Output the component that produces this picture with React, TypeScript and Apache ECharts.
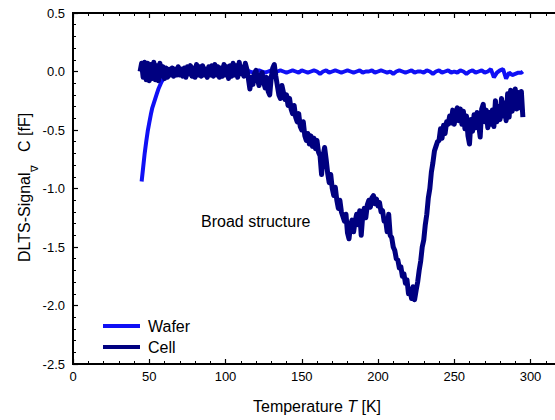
import React, { useEffect, useRef } from "react";
import * as echarts from "echarts";

// Temperature axis ticks / ranges
const xTickLabels = ["0", "50", "100", "150", "200", "250", "300"];
const yTickLabels = ["-2.5", "-2.0", "-1.5", "-1.0", "-0.5", "0.0", "0.5"];

// Cell: values every 1 K, starting at 44 K
const cellStartT = 44;
const cellStepT = 1;
const cellValues = [
  0.00, 0.07, -0.05, 0.08, -0.07, 0.07, -0.08, 0.06, -0.06, 0.08,
  -0.07, 0.05, -0.08, 0.07, -0.04, 0.04, -0.06, 0.03, -0.05, 0.02,
  -0.03, 0.03, -0.04, 0.02, -0.03, 0.04, -0.03, 0.02, -0.04, 0.03,
  -0.05, 0.04, -0.02, 0.05, -0.04, 0.03, -0.05, 0.06, -0.03, 0.04,
  -0.04, 0.05, -0.03, 0.02, -0.05, 0.04, -0.03, 0.05, -0.04, 0.06,
  -0.03, 0.04, -0.05, 0.03, -0.04, 0.06, -0.03, 0.04, -0.06, 0.05,
  -0.04, 0.07, -0.03, 0.05, -0.05, 0.08, -0.02, 0.04, -0.04, 0.07,
  0.02, -0.06, -0.15, -0.05, -0.11, -0.02, 0.01, -0.07, -0.12, -0.03,
  -0.01, -0.09, -0.14, -0.05, -0.17, -0.20, -0.05, 0.03, 0.06, -0.04,
  -0.12, -0.20, -0.23, -0.12, -0.18, -0.24, -0.20, -0.29, -0.23, -0.32,
  -0.36, -0.29, -0.39, -0.43, -0.36, -0.47, -0.50, -0.43, -0.55, -0.59,
  -0.53, -0.62, -0.55, -0.64, -0.57, -0.66, -0.59, -0.69, -0.72, -0.88,
  -0.72, -0.65, -0.75, -0.87, -0.95, -0.88, -1.00, -1.06, -0.99, -1.10,
  -1.17, -1.10, -1.20, -1.24, -1.28, -1.22, -1.38, -1.43, -1.31, -1.27,
  -1.37, -1.28, -1.22, -1.31, -1.19, -1.40, -1.23, -1.17, -1.25, -1.14,
  -1.10, -1.16, -1.08, -1.06, -1.13, -1.09, -1.15, -1.12, -1.20, -1.19,
  -1.28, -1.27, -1.37, -1.22, -1.40, -1.42, -1.50, -1.53, -1.60, -1.61,
  -1.68, -1.67, -1.75, -1.73, -1.81, -1.78, -1.90, -1.86, -1.94, -1.84,
  -1.95, -1.87, -1.80, -1.70, -1.62, -1.50, -1.44, -1.31, -1.22, -1.08,
  -1.00, -0.86, -0.78, -0.68, -0.64, -0.60, -0.59, -0.49, -0.57, -0.46,
  -0.53, -0.43, -0.45, -0.38, -0.44, -0.33, -0.45, -0.35, -0.31, -0.42,
  -0.32, -0.45, -0.34, -0.49, -0.38, -0.55, -0.62, -0.41, -0.51, -0.37,
  -0.48, -0.35, -0.45, -0.56, -0.32, -0.28, -0.43, -0.33, -0.48, -0.35,
  -0.45, -0.33, -0.47, -0.25, -0.43, -0.30, -0.41, -0.23, -0.38, -0.27,
  -0.42, -0.19, -0.39, -0.16, -0.34, -0.22, -0.15, -0.32, -0.18, -0.31,
  -0.17, -0.39,
];

// Wafer: steep rise every 1 K from 45 K, then every 2 K from 66 K, final point at 295 K
const waferRiseStartT = 45;
const waferRiseValues = [
  -0.94, -0.82, -0.70, -0.60, -0.51, -0.44, -0.37, -0.31, -0.27, -0.23,
  -0.19, -0.15, -0.12, -0.09, -0.07, -0.05, -0.04, -0.03, -0.02, -0.02,
  -0.01,
];
const waferFlatStartT = 66;
const waferFlatStepT = 2;
const waferFlatValues = [
  -0.01, 0.00, -0.01, 0.01, 0.00, -0.01, 0.00, 0.01, -0.01, 0.00,
  0.01, -0.01, 0.00, 0.01, 0.00, -0.01, 0.01, 0.00, -0.01, 0.00,
  0.01, 0.00, -0.01, 0.00, 0.01, 0.00, -0.01, 0.00, 0.01, 0.00,
  -0.01, 0.00, 0.01, -0.01, 0.00, 0.01, 0.00, -0.01, 0.00, 0.01,
  0.00, -0.01, 0.01, 0.00, -0.01, 0.00, 0.01, 0.00, -0.02, 0.00,
  0.01, -0.01, 0.00, 0.01, 0.00, -0.01, 0.00, 0.01, 0.00, -0.01,
  0.00, 0.01, -0.01, 0.00, 0.00, 0.01, -0.01, 0.00, 0.01, 0.00,
  -0.01, 0.00, -0.02, 0.00, 0.01, 0.00, -0.01, 0.00, 0.01, -0.01,
  0.00, 0.00, -0.01, 0.01, 0.00, -0.02, 0.00, 0.01, -0.01, 0.00,
  0.01, -0.01, 0.00, -0.01, 0.01, 0.00, -0.02, 0.00, 0.01, -0.01,
  0.00, 0.01, -0.01, 0.00, 0.02, -0.05, -0.01, 0.01, 0.02, -0.06,
  -0.01, -0.03, -0.02, -0.01, -0.01,
];
const waferEnd = [295, 0.0];

const seriesNames = ["Wafer", "Cell"];
const annotation = "Broad structure";

const FONT = "'Liberation Sans', Arial, Helvetica, sans-serif";

const mkLine = () => ({ show: true, onZero: false, lineStyle: { color: "#000", width: 2 } });
const mkTick = () => ({ show: true, inside: true, length: 5, lineStyle: { color: "#000", width: 1.2 } });
const mkMinor = () => ({ show: true, splitNumber: 5, length: 3, lineStyle: { color: "#000", width: 1 } });

export default function App() {
  const ref = useRef<HTMLDivElement>(null);
  useEffect(() => {
    if (!ref.current) return;
    const chart = echarts.init(ref.current, null, { renderer: "svg" });

    const cellData = cellValues.map((v, i) => [cellStartT + i * cellStepT, v]);
    const waferData = [
      ...waferRiseValues.map((v, i) => [waferRiseStartT + i, v]),
      ...waferFlatValues.map((v, i) => [waferFlatStartT + i * waferFlatStepT, v]),
      waferEnd,
    ];

    const xMin = Number(xTickLabels[0]);
    const xInterval = Number(xTickLabels[1]) - Number(xTickLabels[0]);
    const yMin = Number(yTickLabels[0]);
    const yMax = Number(yTickLabels[yTickLabels.length - 1]);
    const yInterval = Number(yTickLabels[1]) - Number(yTickLabels[0]);

    chart.setOption({
      animation: false,
      backgroundColor: "#fff",
      textStyle: { fontFamily: FONT },
      grid: {
        left: 73,
        top: 13,
        bottom: 56,
        right: -6,
        containLabel: false,
        outerBoundsMode: "none",
        show: true,
        borderColor: "#000",
        borderWidth: 2,
        backgroundColor: "transparent",
      },
      legend: {
        data: seriesNames,
        orient: "vertical",
        left: 98,
        top: 313,
        itemWidth: 37,
        itemHeight: 4,
        itemGap: 5,
        icon: "rect",
        textStyle: { fontSize: 16, color: "#000", fontFamily: FONT, lineHeight: 16, padding: [0, 0, 0, 3] },
      },
      xAxis: [
        {
          type: "value",
          position: "bottom",
          min: xMin,
          max: 320,
          interval: xInterval,
          axisLine: mkLine(),
          axisTick: mkTick(),
          minorTick: mkMinor(),
          splitLine: { show: false },
          axisLabel: { fontSize: 13, color: "#000", margin: 6, fontFamily: FONT, showMaxLabel: false },
          name: "Temperature {i|T} [K]",
          nameLocation: "middle",
          nameGap: 34,
          nameTextStyle: {
            fontSize: 16,
            color: "#000",
            fontFamily: FONT,
            rich: { i: { fontStyle: "italic", fontSize: 16, color: "#000", fontFamily: FONT } },
          },
        },
        {
          type: "value",
          position: "top",
          min: xMin,
          max: 320,
          interval: xInterval,
          axisLine: mkLine(),
          axisTick: mkTick(),
          minorTick: mkMinor(),
          splitLine: { show: false },
          axisLabel: { show: false },
        },
      ],
      yAxis: [
        {
          type: "value",
          min: yMin,
          max: yMax,
          interval: yInterval,
          axisLine: mkLine(),
          axisTick: mkTick(),
          minorTick: mkMinor(),
          splitLine: { show: false },
          axisLabel: {
            fontSize: 13,
            color: "#000",
            margin: 8,
            fontFamily: FONT,
            formatter: (v: number) => v.toFixed(1),
          },
        },
      ],
      graphic: [
        {
          type: "group",
          x: 24,
          y: 188,
          rotation: Math.PI / 2,
          children: [
            {
              type: "text",
              x: -74,
              y: 0,
              style: { text: "DLTS-Signal", font: `16px ${FONT}`, fill: "#000", textAlign: "left", textVerticalAlign: "middle" },
            },
            {
              type: "text",
              x: 16,
              y: 10,
              style: { text: "∇", font: `10px ${FONT}`, fill: "#000", textAlign: "left", textVerticalAlign: "middle" },
            },
            {
              type: "text",
              x: 36,
              y: 0,
              style: { text: "C [fF]", font: `16px ${FONT}`, fill: "#000", textAlign: "left", textVerticalAlign: "middle" },
            },
          ],
        },
        {
          type: "text",
          left: 201,
          top: 213,
          style: { text: annotation, font: `16px ${FONT}`, fill: "#000" },
        },
      ],
      series: [
        {
          name: seriesNames[0],
          type: "line",
          data: waferData,
          showSymbol: false,
          symbol: "none",
          color: "#1010F5",
          lineStyle: { width: 4, color: "#1010F5" },
          z: 2,
        },
        {
          name: seriesNames[1],
          type: "line",
          data: cellData,
          showSymbol: false,
          symbol: "none",
          color: "#000080",
          lineStyle: { width: 5, color: "#000080", join: "round" },
          z: 3,
        },
      ],
    });
    return () => chart.dispose();
  }, []);
  return <div ref={ref} style={{ width: 555, height: 420, position: "absolute", left: 0, top: 0 }} />;
}
